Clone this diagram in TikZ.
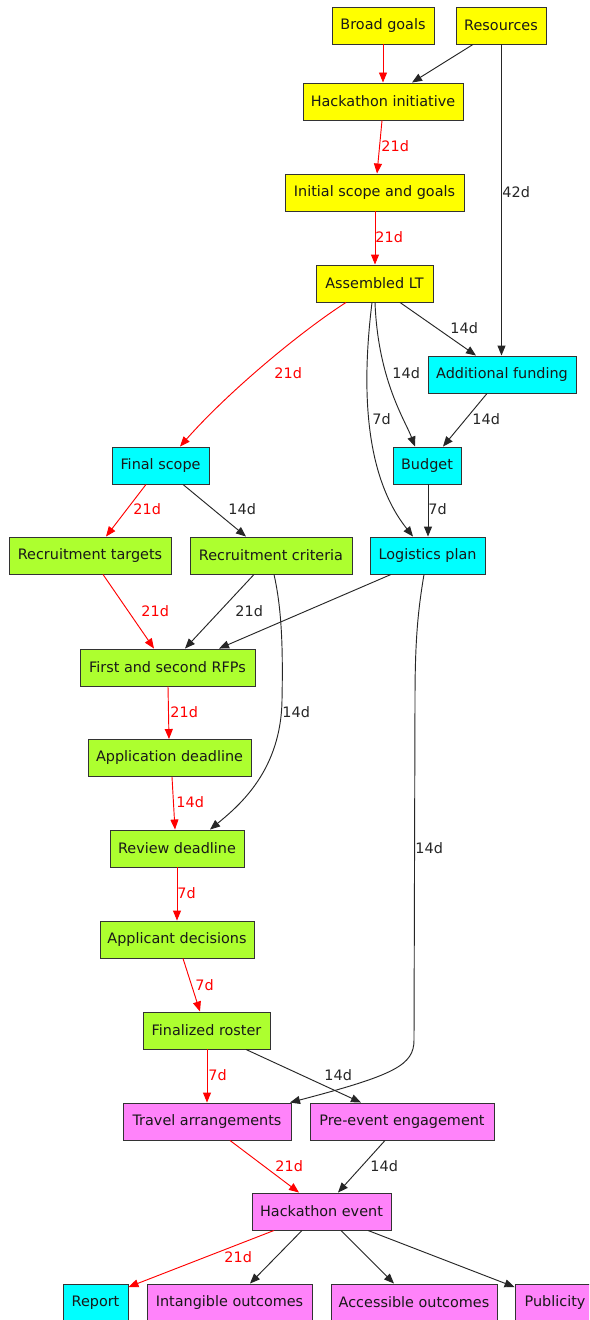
\documentclass[tikz,border=0pt]{standalone}
\usepackage{fontspec}
\setmainfont{DejaVu Sans}
\usetikzlibrary{arrows.meta}
\definecolor{cyl}{HTML}{FFFF00}
\definecolor{ccy}{HTML}{00FFFF}
\definecolor{cgr}{HTML}{ADFF2F}
\definecolor{cpk}{HTML}{FF83FA}
\tikzset{
  nd/.style={draw=black!80, line width=0.7pt, minimum height=27.75pt, inner sep=0pt,
    font=\fontsize{10.8}{12}\selectfont, text=black!90},
  bw/.style={minimum width=#1*0.75pt},
  ylw/.style={nd, fill=cyl},
  cyn/.style={nd, fill=ccy},
  grn/.style={nd, fill=cgr},
  pnk/.style={nd, fill=cpk},
  ed/.style={draw=black!85, line width=0.7pt, -{Triangle[length=7.5pt,width=6pt]}},
  cr/.style={draw=red, line width=0.7pt, -{Triangle[length=7.5pt,width=6pt]}},
  lb/.style={anchor=west, inner sep=0pt, font=\fontsize{10.8}{12}\selectfont, text=black!85},
  lr/.style={lb, text=red},
}
\begin{document}
\begin{tikzpicture}[x=0.75pt,y=-0.75pt]
\clip (0,0) rectangle (589,1320);
\fill[white] (0,0) rectangle (589,1320);
% nodes
\node[ylw,bw=102] (bg)  at (383,25.5) {Broad goals};
\node[ylw,bw=90]  (res) at (501,25.5) {Resources};
\node[ylw,bw=160] (hi)  at (383,101.5) {Hackathon initiative};
\node[ylw,bw=179] (isg) at (374.5,192.5) {Initial scope and goals};
\node[ylw,bw=117] (alt) at (374.5,283.5) {Assembled LT};
\node[cyn,bw=148] (af)  at (502,374.5) {Additional funding};
\node[cyn,bw=97]  (fs)  at (160.5,465.5) {Final scope};
\node[cyn,bw=68]  (bud) at (427,465.5) {Budget};
\node[grn,bw=162] (rt)  at (90,555.5) {Recruitment targets};
\node[grn,bw=162] (rc)  at (271,555.5) {Recruitment criteria};
\node[cyn,bw=115] (lp)  at (427.5,555.5) {Logistics plan};
\node[grn,bw=175] (rfp) at (167.5,667.5) {First and second RFPs};
\node[grn,bw=163] (ad)  at (169.5,758) {Application deadline};
\node[grn,bw=134] (rev) at (177,848.5) {Review deadline};
\node[grn,bw=154] (apd) at (177,939.5) {Applicant decisions};
\node[grn,bw=127] (fr)  at (206.5,1030.5) {Finalized roster};
\node[pnk,bw=168] (ta)  at (207,1121.5) {Travel arrangements};
\node[pnk,bw=184] (pe)  at (402,1121.5) {Pre-event engagement};
\node[pnk,bw=139] (he)  at (321.5,1211.5) {Hackathon event};
\node[cyn,bw=65]  (rep) at (95.5,1302.5) {Report};
\node[pnk,bw=165] (io)  at (229.5,1302.5) {Intangible outcomes};
\node[pnk,bw=166] (ao)  at (414,1302.5) {Accessible outcomes};
\node[pnk,bw=80]  (pub) at (555,1302.5) {Publicity};
% edges
\draw[cr] (bg.south) -- (hi.north -| 383,0);
\draw[ed] (res.south -| 473,0) -- (hi.north -| 412,0);
\draw[cr] (hi.south -| 382,0) -- (isg.north -| 377,0) node[lr,at={(381,146)}] {21d};
\draw[cr] (isg.south -| 375,0) -- (alt.north -| 375,0) node[lr,at={(375,237)}] {21d};
\draw[ed] (res.south -| 501.5,0) -- (af.north -| 501.5,0) node[lb,at={(502,192)}] {42d};
\draw[ed] (alt.south -| 400,0) -- (af.north -| 476,0) node[lb,at={(450,328)}] {14d};
\draw[cr] (alt.south -| 346,0) .. controls (300,332) and (228,392) .. (fs.north -| 180,0) node[lr,at={(274,373)}] {21d};
\draw[ed] (alt.south -| 375,0) .. controls (378,380) and (405,420) .. (bud.north -| 415,0) node[lb,at={(392,373)}] {14d};
\draw[ed] (alt.south -| 372,0) .. controls (360,400) and (368,480) .. (lp.north -| 413,0) node[lb,at={(372,419)}] {7d};
\draw[ed] (af.south -| 487,0) -- (bud.north -| 443,0) node[lb,at={(472,419)}] {14d};
\draw[ed] (bud.south -| 428,0) -- (lp.north -| 428,0) node[lb,at={(428,509)}] {7d};
\draw[cr] (fs.south -| 146,0) -- (rt.north -| 106,0) node[lr,at={(133,509)}] {21d};
\draw[ed] (fs.south -| 183,0) -- (rc.north -| 246,0) node[lb,at={(228,509)}] {14d};
\draw[cr] (rt.south -| 103,0) -- (rfp.north -| 154,0) node[lr,at={(141,611)}] {21d};
\draw[ed] (rc.south -| 254,0) -- (rfp.north -| 185,0) node[lb,at={(235,611)}] {21d};
\draw[ed] (lp.south -| 391,0) -- (rfp.north -| 219,0);
\draw[ed] (rc.south -| 274,0) .. controls (282,610) and (283,650) .. (282,700)
  .. controls (281,770) and (240,805) .. (rev.north -| 210,0) node[lb,at={(282,712)}] {14d};
\draw[cr] (rfp.south -| 168,0) -- (ad.north -| 169,0) node[lr,at={(170,712)}] {21d};
\draw[cr] (ad.south -| 172,0) -- (rev.north -| 175,0) node[lr,at={(176,802)}] {14d};
\draw[cr] (rev.south -| 177,0) -- (apd.north -| 177,0) node[lr,at={(177,893)}] {7d};
\draw[cr] (apd.south -| 183,0) -- (fr.north -| 200,0) node[lr,at={(195,985)}] {7d};
\draw[ed] (lp.south -| 424,0) .. controls (418,610) and (415,640) .. (415,700) -- (414,1040)
  .. controls (414,1065) and (395,1075) .. (ta.north -| 290,0) node[lb,at={(415,848)}] {14d};
\draw[cr] (fr.south -| 207,0) -- (ta.north -| 207,0) node[lr,at={(208,1075)}] {7d};
\draw[ed] (fr.south -| 246,0) -- (pe.north -| 361,0) node[lb,at={(324,1075)}] {14d};
\draw[cr] (ta.south -| 230,0) -- (he.north -| 299,0) node[lr,at={(275,1166)}] {21d};
\draw[ed] (pe.south -| 385,0) -- (he.north -| 338,0) node[lb,at={(370,1166)}] {14d};
\draw[cr] (he.south -| 274,0) -- (rep.east |- 0,1287) node[lr,at={(224,1257)}] {21d};
\draw[ed] (he.south -| 302,0) -- (io.north -| 250,0);
\draw[ed] (he.south -| 341,0) -- (ao.north -| 394,0);
\draw[ed] (he.south -| 368,0) -- (pub.west |- 0,1287);
\end{tikzpicture}
\end{document}
